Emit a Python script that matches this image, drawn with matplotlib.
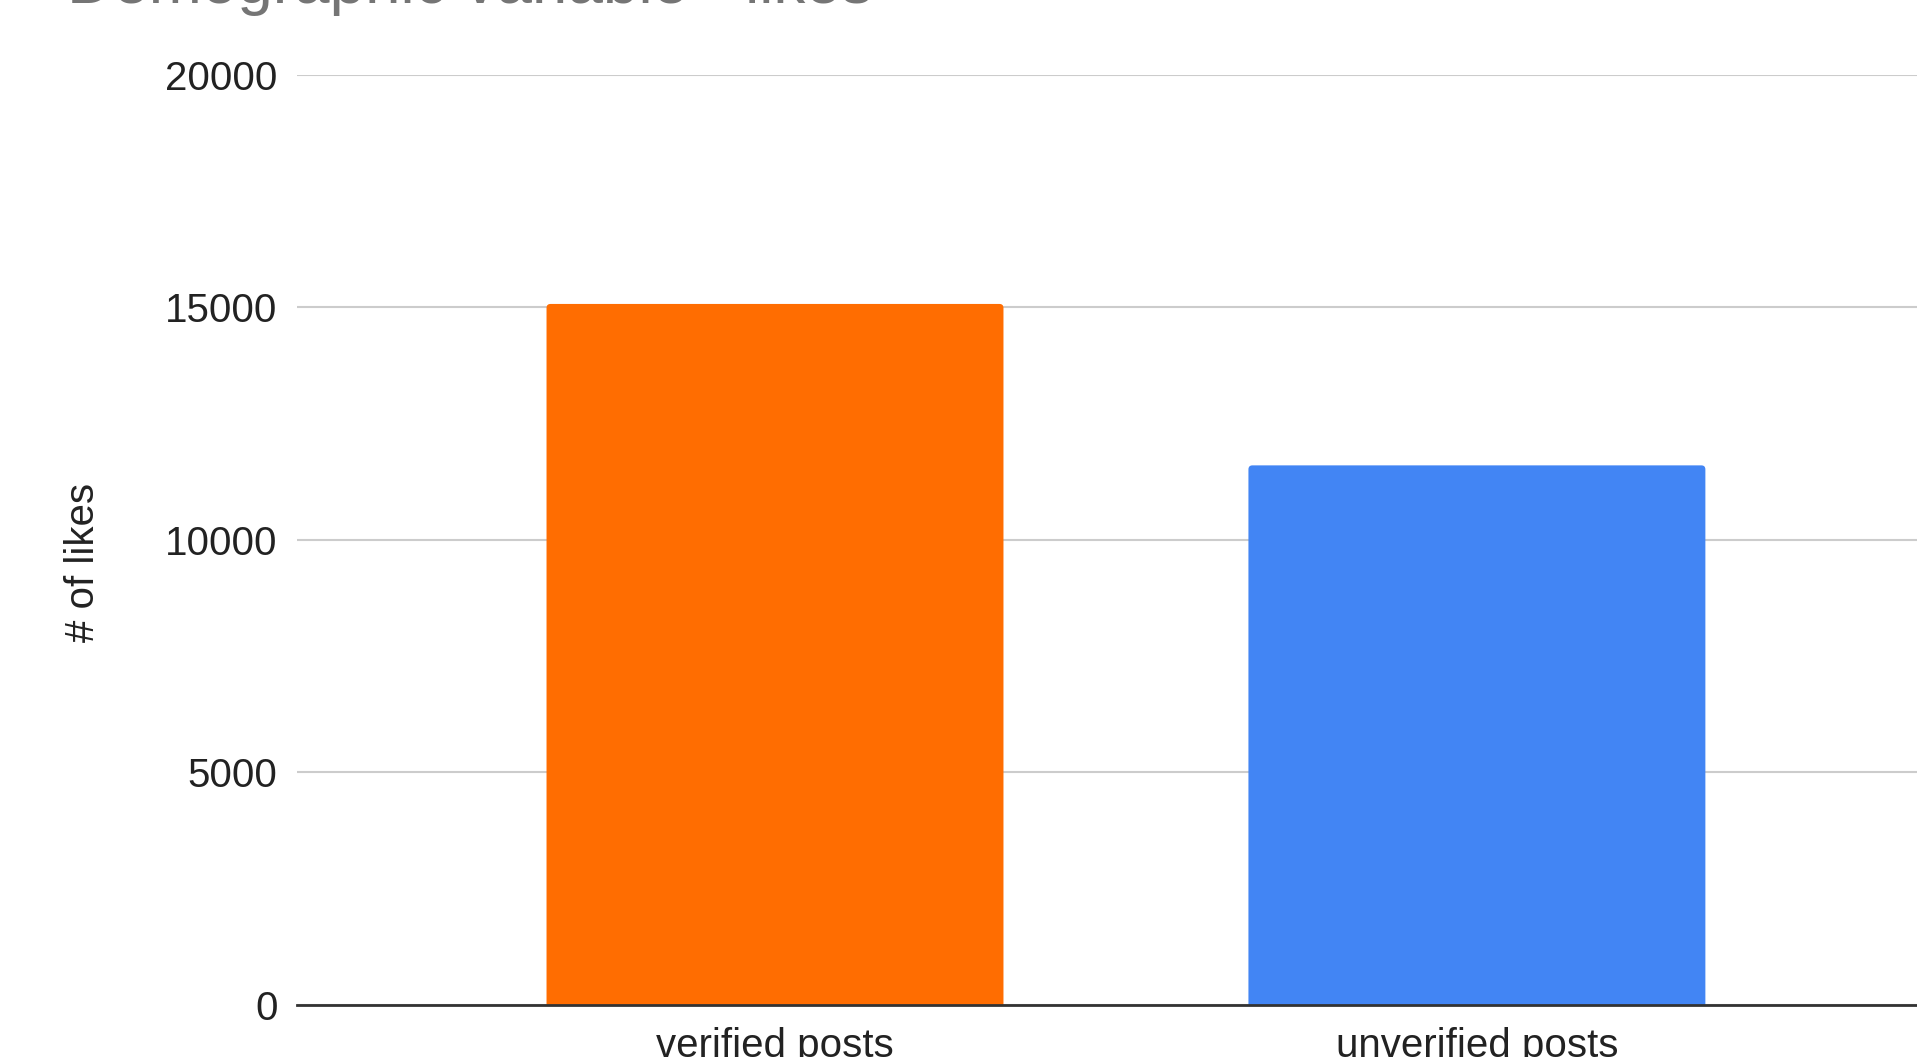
import matplotlib
matplotlib.use("Agg")
import matplotlib.pyplot as plt
from matplotlib.patches import FancyBboxPatch

categories = ["verified posts", "unverified posts"]
likes = [15070, 11600]
colors = ["#FF6D01", "#4285F4"]
yticks = [0, 5000, 10000, 15000, 20000]
title = "Demographic variable - likes"
ylabel = "# of likes"

plt.rcParams['font.family'] = ['Liberation Sans', 'DejaVu Sans']

W, H = 1917, 1057
fig = plt.figure(figsize=(W / 100, H / 100), dpi=100)
ax = fig.add_axes([297 / W, 1 - 1005 / H, 1 - 297 / W, (1005 - 74.6) / H])

XMIN, XMAX = -0.681, 1.627
YMAX = 20000
x = list(range(len(categories)))
bars = ax.bar(x, likes, width=0.651, color=colors, zorder=3)

ax.set_xlim(XMIN, XMAX)
ax.set_ylim(0, YMAX)

# replace bars with rounded-top versions
ax_w_px = W - 297
ax_h_px = 1005 - 74.6
xpp = (XMAX - XMIN) / ax_w_px
ypp = YMAX / ax_h_px
r_px = 4
for b in bars:
    bx, bw, bh = b.get_x(), b.get_width(), b.get_height()
    b.set_visible(False)
    ext = 10 * ypp
    p = FancyBboxPatch((bx, -ext), bw, bh + ext,
                       boxstyle=f"round,pad=0,rounding_size={r_px * xpp}",
                       mutation_aspect=ypp / xpp,
                       facecolor=b.get_facecolor(), edgecolor='none', zorder=3)
    ax.add_patch(p)

ax.set_yticks(yticks)
ax.set_yticklabels([str(v) for v in yticks])
ax.set_xticks(x)
ax.set_xticklabels(categories)

ax.grid(axis='y', color='#cccccc', linewidth=1.5, zorder=0)
for s in ['top', 'right', 'left']:
    ax.spines[s].set_visible(False)
ax.spines['bottom'].set_color('#333333')
ax.spines['bottom'].set_linewidth(2.0)
ax.spines['bottom'].set_zorder(4)
ax.tick_params(axis='both', length=0, labelsize=29, colors='#222222')
ax.tick_params(axis='y', pad=14)
ax.tick_params(axis='x', pad=16)

fig.text(83 / W, 1 - 562 / H, ylabel, rotation=90, ha='center', va='center',
         fontsize=29, color='#222222')
fig.text(67 / W, 1 - 3.5 / H, title, ha='left', va='baseline',
         fontsize=46, color='#757575')

fig.savefig("out.png", dpi=100)
